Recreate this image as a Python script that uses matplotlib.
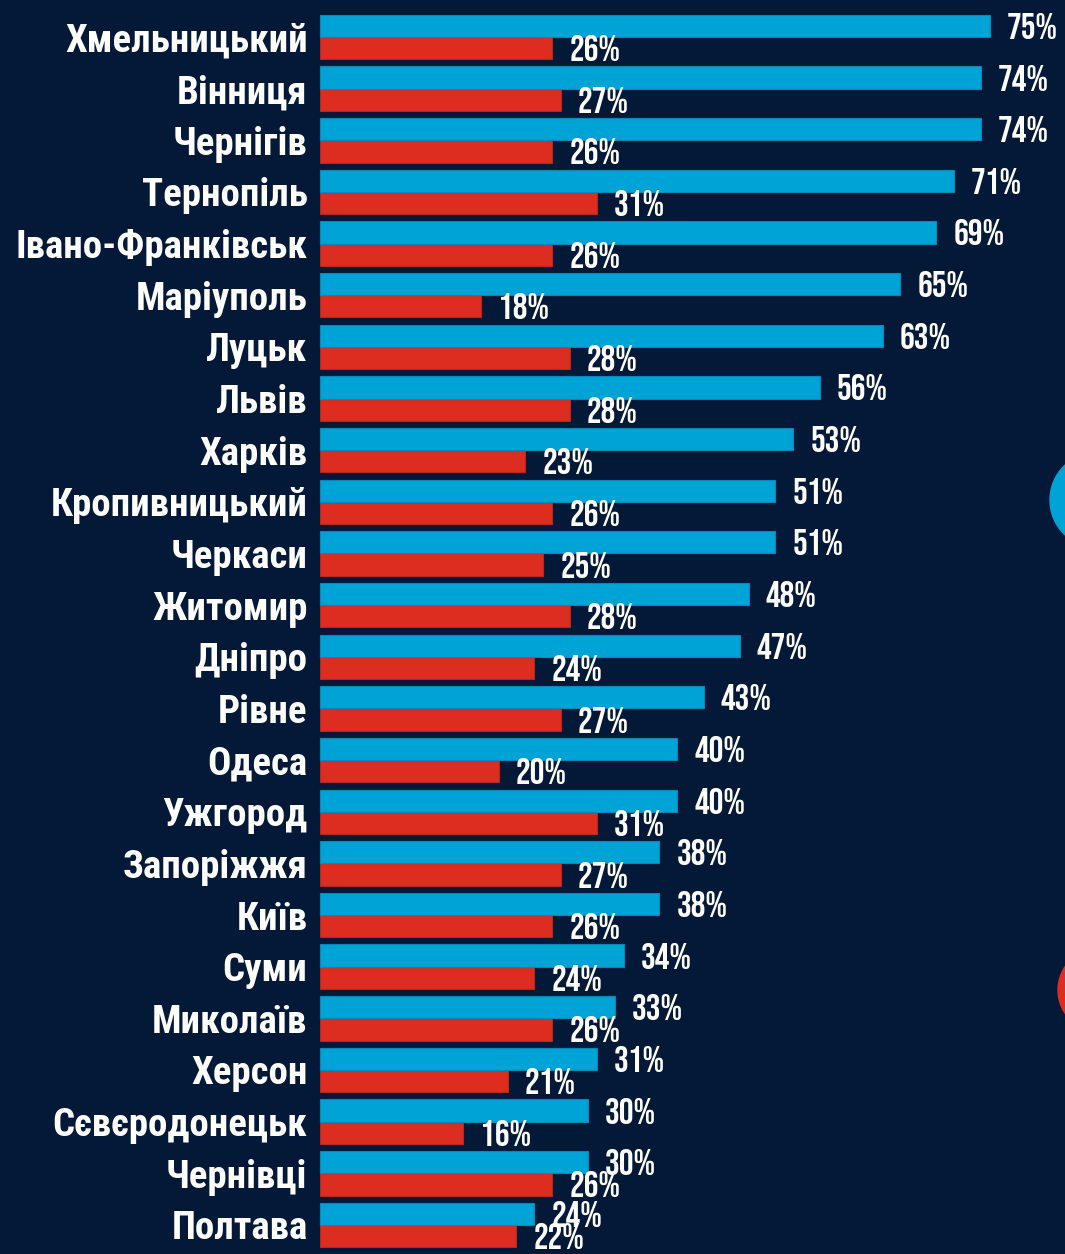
import matplotlib

matplotlib.use("Agg")
import matplotlib.pyplot as plt
from matplotlib.patches import Ellipse

CITIES = [
    "Хмельницький", "Вінниця", "Чернігів", "Тернопіль", "Івано-Франківськ",
    "Маріуполь", "Луцьк", "Львів", "Харків", "Кропивницький", "Черкаси",
    "Житомир", "Дніпро", "Рівне", "Одеса", "Ужгород", "Запоріжжя", "Київ",
    "Суми", "Миколаїв", "Херсон", "Сєвєродонецьк", "Чернівці", "Полтава",
]
BLUE_VALUES = [75, 74, 74, 71, 69, 65, 63, 56, 53, 51, 51, 48, 47, 43, 40, 40,
               38, 38, 34, 33, 31, 30, 30, 24]
RED_VALUES = [26, 27, 26, 31, 26, 18, 28, 28, 23, 26, 25, 28, 24, 27, 20, 31,
              27, 26, 24, 26, 21, 16, 26, 22]

BG = "#041937"
BLUE = "#00a3d5"
RED = "#dd2d20"
BAR_H = 0.43

W, H = 1065, 1254
fig = plt.figure(figsize=(W / 100, H / 100), dpi=100, facecolor=BG)
ax = fig.add_axes([320 / W, 0, 1 - 320 / W, 1], facecolor=BG)

rows = list(range(len(CITIES)))
ax.barh([r - BAR_H / 2 for r in rows], BLUE_VALUES, height=BAR_H,
        color=BLUE, edgecolor="#0a86b8", linewidth=0.8, zorder=3)
ax.barh([r + BAR_H / 2 for r in rows], RED_VALUES, height=BAR_H,
        color=RED, edgecolor="#b5261f", linewidth=0.8, zorder=2)

pct_font = dict(family=["Bebas Neue", "Oswald", "DejaVu Sans"],
                fontsize=26.5, color="white")
for r, b, v in zip(rows, BLUE_VALUES, RED_VALUES):
    ax.annotate(f"{b}%", (b, r - BAR_H / 2), xytext=(17, 0),
                textcoords="offset pixels", va="center_baseline", ha="left",
                zorder=5, **pct_font)
    ax.annotate(f"{v}%", (v, r + BAR_H / 2), xytext=(17, 0),
                textcoords="offset pixels", va="center_baseline", ha="left",
                zorder=5, **pct_font)

ax.set_xlim(0, (W - 320) / 8.93)
ax.set_ylim((H - 37) / 51.65, -37 / 51.65)
ax.set_xticks([])
ax.set_yticks(rows)
ax.set_yticklabels(CITIES, fontsize=28, fontweight="bold", color="white",
                   family=["Roboto Condensed", "Liberation Sans", "DejaVu Sans"])
ax.tick_params(axis="y", length=0, pad=9)
for s in ax.spines.values():
    s.set_visible(False)

# decorative circles cut by the right edge
fig.patches.append(Ellipse((1098 / W, 1 - 500 / H), 96 / W, 96 / H,
                           transform=fig.transFigure, color=BLUE))
fig.patches.append(Ellipse((1100 / W, 1 - 990 / H), 84 / W, 84 / H,
                           transform=fig.transFigure, color=RED))

fig.savefig("out.png", dpi=100, facecolor=BG)
